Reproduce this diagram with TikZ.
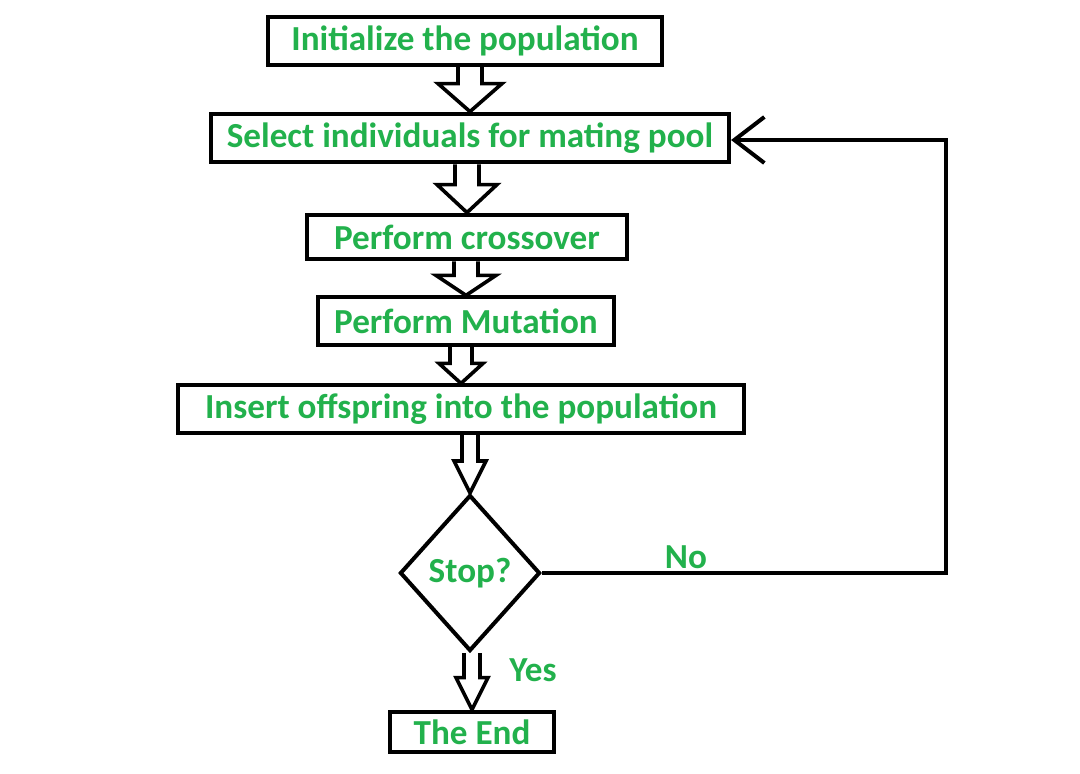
\documentclass[tikz,border=0pt]{standalone}
\usepackage{fontspec}
\setmainfont{Carlito}
\usetikzlibrary{shapes.geometric,arrows.meta,calc}
\definecolor{stepgreen}{RGB}{34,177,76}
\tikzset{
  stepbox/.style={draw,line width=0.1cm,inner sep=0pt,font=\bfseries\fontsize{25}{30}\selectfont,text=stepgreen},
  barrow/.style={draw,line width=0.09cm,line join=miter},
  lbl/.style={font=\bfseries\fontsize{25}{30}\selectfont,text=stepgreen}
}
% hollow block arrow from one node to the next
\newcommand\blockarr[5]{%
  \draw[barrow] ($(#2.north |- #1.south)+(-#3,0)$) -- ($(#2.north)+(-#3,-#5)$) -- ($(#2.north)+(-#4,-#5)$)
    -- (#2.north) -- ($(#2.north)+(#4,-#5)$) -- ($(#2.north)+(#3,-#5)$) -- ($(#2.north |- #1.south)+(#3,0)$);}
\begin{document}
\begin{tikzpicture}[x=0.025cm,y=-0.025cm,>=latex]
  \useasboundingbox (0,0) rectangle (1080,774);
  \node[stepbox,minimum width=9.85cm,minimum height=1.18cm] (init) at (465,41) {Initialize the population};
  \node[stepbox,minimum width=12.95cm,minimum height=1.22cm] (select) at (470,138) {Select individuals for mating pool};
  \node[stepbox,minimum width=8cm,minimum height=1.12cm] (cross) at (467,237) {Perform crossover};
  \node[stepbox,minimum width=7.42cm,minimum height=1.18cm] (mut) at (466,321) {Perform Mutation};
  \node[stepbox,minimum width=14.15cm,minimum height=1.18cm] (insert) at (461,409) {Insert offspring into the population};
  \node[stepbox,diamond,minimum width=3.5cm,minimum height=3.9cm] (stop) at (470,573) {Stop?};
  \node[stepbox,minimum width=4.12cm,minimum height=1.02cm] (theend) at (472,732) {The End};

  \blockarr{init}{select}{12}{32}{28}
  \blockarr{select}{cross}{12}{30}{28}
  \blockarr{cross}{mut}{12}{30}{20}
  \blockarr{mut}{insert}{11}{22}{20}
  \blockarr{insert}{stop}{8}{16}{32}
  \blockarr{stop}{theend}{8}{16}{32}

  \coordinate (c1) at (946,573);
  \coordinate (c2) at (946,140);
  \draw[line width=0.1cm,-{Straight Barb[length=0.75cm,width=1.15cm]}] (stop.east) -- (c1) -- (c2) -- (select.east |- c2);
  \node[lbl] (no) at (686,557) {No};
  \node[lbl] (yes) at (533,670) {Yes};
\end{tikzpicture}
\end{document}
